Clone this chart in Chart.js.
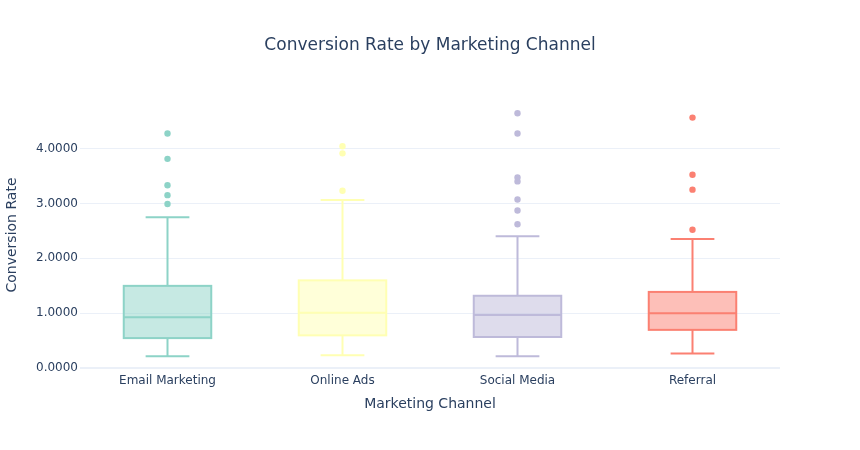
<!DOCTYPE html>
<html>
<head>
<meta charset="utf-8">
<script src="https://cdn.jsdelivr.net/npm/chart.js@4/dist/chart.umd.min.js"></script>
<style>
  html, body { margin: 0; padding: 0; background: #ffffff; }
  #wrap { width: 860px; height: 450px; }
</style>
</head>
<body>
<div id="wrap"><canvas id="c" width="860" height="450"></canvas></div>
<script>
const categories = ['Email Marketing', 'Online Ads', 'Social Media', 'Referral'];
const lowerWhisker = [0.22, 0.24, 0.22, 0.27];
const q1 = [0.55, 0.60, 0.57, 0.70];
const median = [0.93, 1.01, 0.97, 1.00];
const q3 = [1.50, 1.60, 1.32, 1.39];
const upperWhisker = [2.75, 3.06, 2.40, 2.35];
const outliersEmail = [2.99, 3.15, 3.33, 3.81, 4.27];
const outliersOnline = [3.23, 3.91, 4.04];
const outliersSocial = [2.62, 2.87, 3.07, 3.40, 3.47, 4.27, 4.64];
const outliersReferral = [2.52, 3.25, 3.52, 4.56];
const yTicks = [0, 1, 2, 3, 4];
const colors = ['#8dd3c7', '#ffffb3', '#bebada', '#fb8072'];
const fills = ['rgba(141,211,199,0.5)', 'rgba(255,255,179,0.5)', 'rgba(190,186,218,0.5)', 'rgba(251,128,114,0.5)'];

const outlierLists = [outliersEmail, outliersOnline, outliersSocial, outliersReferral];
const FONT = '"DejaVu Sans", Verdana, sans-serif';
const TXT = '#2a3f5f';

const boxDataset = {
  type: 'bar',
  label: 'box',
  data: categories.map((c, i) => [q1[i], q3[i]]),
  backgroundColor: fills,
  borderColor: colors,
  borderWidth: 0,
  borderSkipped: false,
  barPercentage: 0.5,
  categoryPercentage: 1.0,
  order: 2
};

const outlierDatasets = categories.map((c, i) => ({
  type: 'scatter',
  label: c + ' outliers',
  data: outlierLists[i].map(v => ({ x: c, y: v })),
  backgroundColor: colors[i],
  borderColor: colors[i],
  borderWidth: 0,
  pointRadius: 3.2,
  order: 1
}));

const whiskerPlugin = {
  id: 'whiskers',
  afterDatasetsDraw(chart) {
    const meta = chart.getDatasetMeta(0);
    const ys = chart.scales.y;
    const ctx = chart.ctx;
    ctx.save();
    meta.data.forEach((bar, i) => {
      const x = bar.x;
      const w = bar.width;
      ctx.strokeStyle = colors[i];
      ctx.lineWidth = 2;
      const yMed = ys.getPixelForValue(median[i]);
      const yQ1 = ys.getPixelForValue(q1[i]);
      const yQ3 = ys.getPixelForValue(q3[i]);
      const yLo = ys.getPixelForValue(lowerWhisker[i]);
      const yHi = ys.getPixelForValue(upperWhisker[i]);
      ctx.strokeRect(x - w / 2, yQ3, w, yQ1 - yQ3);
      ctx.beginPath();
      ctx.moveTo(x - w / 2, yMed); ctx.lineTo(x + w / 2, yMed);
      ctx.moveTo(x, yQ3); ctx.lineTo(x, yHi);
      ctx.moveTo(x - w / 4, yHi); ctx.lineTo(x + w / 4, yHi);
      ctx.moveTo(x, yQ1); ctx.lineTo(x, yLo);
      ctx.moveTo(x - w / 4, yLo); ctx.lineTo(x + w / 4, yLo);
      ctx.stroke();
    });
    ctx.restore();
  }
};

new Chart(document.getElementById('c'), {
  data: {
    labels: categories,
    datasets: [boxDataset, ...outlierDatasets]
  },
  options: {
    responsive: false,
    animation: false,
    devicePixelRatio: 1,
    layout: { padding: { left: 0, right: 0, top: 0, bottom: 33 } },
    plugins: {
      legend: { display: false },
      tooltip: { enabled: false },
      title: {
        display: true,
        text: 'Conversion Rate by Marketing Channel',
        color: TXT,
        font: { family: FONT, size: 17, weight: 'normal' },
        padding: { top: 35, bottom: 44.6 }
      }
    },
    scales: {
      x: {
        type: 'category',
        offset: true,
        grid: { display: false, drawTicks: false },
        border: { display: false },
        ticks: { color: TXT, font: { family: FONT, size: 12 }, padding: 4, maxRotation: 0 },
        title: { display: true, text: 'Marketing Channel', color: TXT, font: { family: FONT, size: 14 }, padding: { top: 4, bottom: 4 } },
        afterFit(scale) { scale.height = 47; }
      },
      y: {
        type: 'linear',
        min: -0.03,
        max: 4.88,
        afterBuildTicks(scale) { scale.ticks = yTicks.map(v => ({ value: v })); },
        ticks: {
          includeBounds: false,
          color: TXT,
          font: { family: FONT, size: 12 },
          padding: 2,
          callback: v => Number(v).toFixed(4)
        },
        grid: {
          drawTicks: false,
          color: '#EBF0F8',
          lineWidth: ctx => (ctx.tick && ctx.tick.value === 0 ? 2 : 1)
        },
        border: { display: false },
        title: { display: true, text: 'Conversion Rate', color: TXT, font: { family: FONT, size: 14 }, padding: { top: 4, bottom: 4 } },
        afterFit(scale) { scale.width = 80; }
      },
      yRight: {
        type: 'linear',
        position: 'right',
        display: true,
        min: 0,
        max: 1,
        grid: { display: false, drawTicks: false },
        border: { display: false },
        ticks: { display: false },
        afterFit(scale) { scale.width = 80; }
      }
    }
  },
  plugins: [whiskerPlugin]
});
</script>
</body>
</html>
